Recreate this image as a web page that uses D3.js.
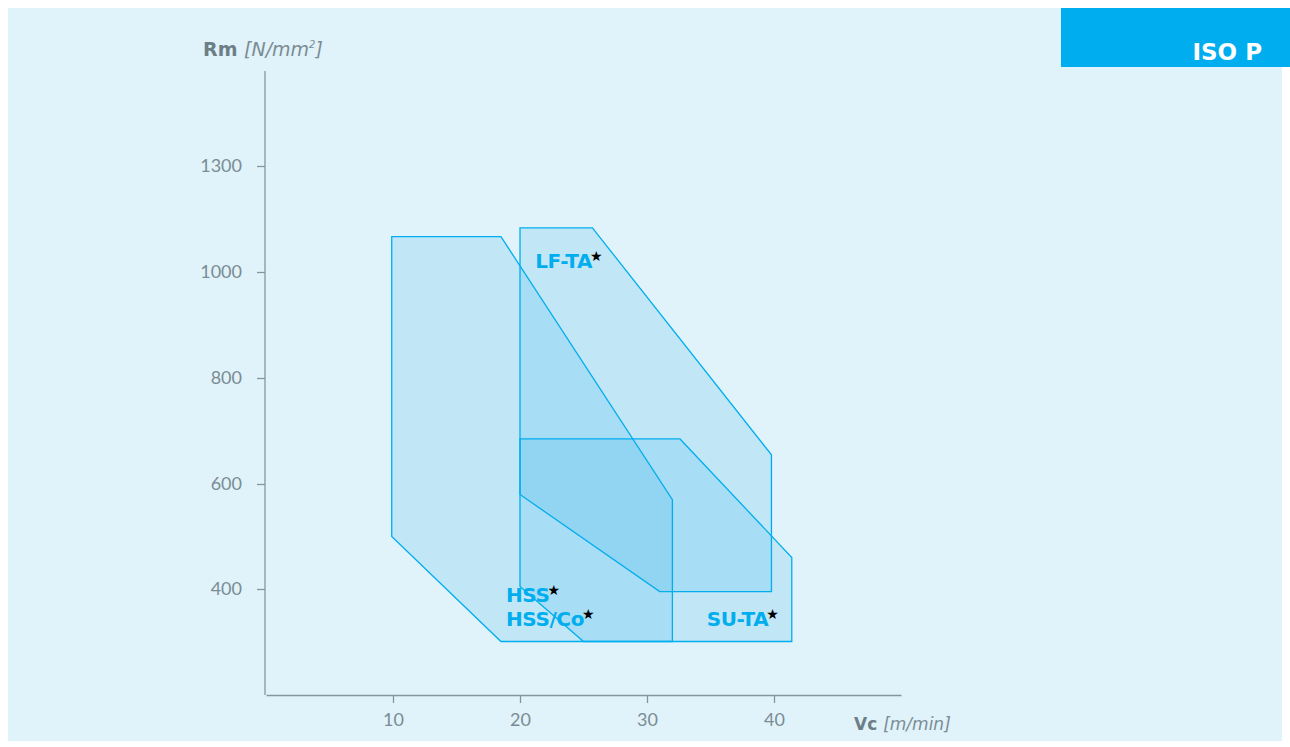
<!DOCTYPE html>
<html>
<head>
<meta charset="utf-8">
<script src="https://cdn.jsdelivr.net/npm/d3@7"></script>
<style>
  body { margin: 0; background: #ffffff; }
  svg { display: block; font-family: Lato, "DejaVu Sans", sans-serif; }
</style>
</head>
<body>
<svg id="chart"></svg>
<script>
var width = 1290;
var height = 747;

// axis ticks
var xTicks = [10, 20, 30, 40];
var yTicks = [400, 600, 800, 1000, 1300];

// tool groups: Vc [m/min] / Rm [N/mm2] corners
var hssVc = [9.9, 18.5, 32, 32, 18.5, 9.9];
var hssRm = [1100, 1100, 570, 300, 300, 500];
var lftaVc = [20, 25.7, 39.8, 39.8, 31, 20];
var lftaRm = [1125, 1125, 655, 395, 395, 580];
var sutaVc = [20, 32.6, 41.4, 41.4, 25, 20];
var sutaRm = [685, 685, 460, 300, 300, 405];

var groups = [
  {name: "HSS/Co", vc: hssVc, rm: hssRm},
  {name: "LF-TA", vc: lftaVc, rm: lftaRm},
  {name: "SU-TA", vc: sutaVc, rm: sutaRm}
];

// labels: text, anchor vc, anchor rm
var labelText = ["LF-TA", "HSS", "HSS/Co", "SU-TA"];
var labelVc = [21.2, 18.9, 18.9, 34.7];
var labelRm = [1010, 375, 330, 330];

var svg = d3.select("#chart").attr("width", width).attr("height", height);

// background panel
svg.append("rect")
  .attr("x", 8).attr("y", 8)
  .attr("width", width - 16).attr("height", height - 14)
  .attr("fill", "#e0f2fa");

// ISO P tab
svg.append("rect")
  .attr("x", 1061).attr("y", 8)
  .attr("width", width - 1061).attr("height", 59)
  .attr("fill", "#00aeef");
svg.append("text")
  .attr("x", 1262).attr("y", 60)
  .attr("text-anchor", "end")
  .attr("fill", "#ffffff")
  .attr("font-family", "'DejaVu Sans', sans-serif")
  .attr("font-size", 23).attr("font-weight", 700)
  .text("ISO P");

var x = d3.scaleLinear().domain([0, 50]).range([266, 901]);
// non-linear Rm axis (1000 -> 1300 squeezed)
var y = d3.scaleLinear().domain(yTicks).range([589, 484, 378, 272, 166]);

var axisColor = "#8197a0";
var textColor = "#7b8c93";
var blue = "#00aeef";

// polygons
var line = d3.line().x(function(d) { return x(d[0]); }).y(function(d) { return y(d[1]); });
svg.append("g")
  .selectAll("path")
  .data(groups)
  .enter().append("path")
  .attr("d", function(g) {
    var pts = g.vc.map(function(v, i) { return [v, g.rm[i]]; });
    return line(pts) + "Z";
  })
  .attr("fill", "#12a9ee")
  .attr("fill-opacity", 0.15)
  .attr("stroke", blue)
  .attr("stroke-width", 1.3);

// x axis
var xAxis = svg.append("g")
  .attr("transform", "translate(0,695)")
  .call(d3.axisBottom(x).tickValues(xTicks).tickFormat(d3.format("d"))
    .tickSize(8).tickPadding(10).tickSizeOuter(0));
xAxis.select(".domain").attr("stroke", axisColor).attr("stroke-width", 1.3);
xAxis.selectAll(".tick line").attr("stroke", axisColor).attr("stroke-width", 1.3);
xAxis.selectAll(".tick text")
  .attr("fill", textColor).attr("font-size", 18)
  .attr("font-family", "Lato, sans-serif");

// y axis
var yAxis = svg.append("g")
  .attr("transform", "translate(265,0)")
  .call(d3.axisLeft(y).tickValues(yTicks).tickFormat(d3.format("d"))
    .tickSize(8).tickPadding(15).tickSizeOuter(0));
yAxis.select(".domain").remove();
yAxis.append("line")
  .attr("x1", 0).attr("x2", 0).attr("y1", 71).attr("y2", 695)
  .attr("stroke", axisColor).attr("stroke-width", 1.3);
yAxis.selectAll(".tick line").attr("stroke", axisColor).attr("stroke-width", 1.3);
yAxis.selectAll(".tick text")
  .attr("fill", textColor).attr("font-size", 18)
  .attr("font-family", "Lato, sans-serif");

// axis titles
var yTitle = svg.append("text").attr("x", 203).attr("y", 56)
  .attr("font-family", "'DejaVu Sans', sans-serif").attr("font-size", 19);
yTitle.append("tspan").attr("font-weight", 700).attr("fill", "#6c7e86").text("Rm ");
yTitle.append("tspan").attr("font-style", "italic").attr("fill", textColor).text("[N/mm");
yTitle.append("tspan").attr("font-style", "italic").attr("fill", textColor)
  .attr("font-size", 10).attr("dy", -8).text("2");
yTitle.append("tspan").attr("font-style", "italic").attr("fill", textColor)
  .attr("dy", 8).text("]");

var xTitle = svg.append("text").attr("x", 854).attr("y", 730)
  .attr("font-family", "'DejaVu Sans', sans-serif").attr("font-size", 17);
xTitle.append("tspan").attr("font-weight", 700).attr("fill", "#6c7e86").text("Vc ");
xTitle.append("tspan").attr("font-style", "italic").attr("fill", textColor).text("[m/min]");

// group labels
var labels = svg.append("g")
  .selectAll("text")
  .data(labelText)
  .enter().append("text")
  .attr("x", function(d, i) { return x(labelVc[i]); })
  .attr("y", function(d, i) { return y(labelRm[i]); })
  .attr("font-family", "'DejaVu Sans', sans-serif")
  .attr("font-size", 20).attr("font-weight", 700)
  .attr("letter-spacing", -0.4)
  .attr("fill", blue);
labels.append("tspan").text(function(d) { return d; });
labels.append("tspan")
  .attr("fill", "#000000").attr("font-size", 14).attr("dy", -7).attr("dx", -2)
  .text("\u2605");
</script>
</body>
</html>
